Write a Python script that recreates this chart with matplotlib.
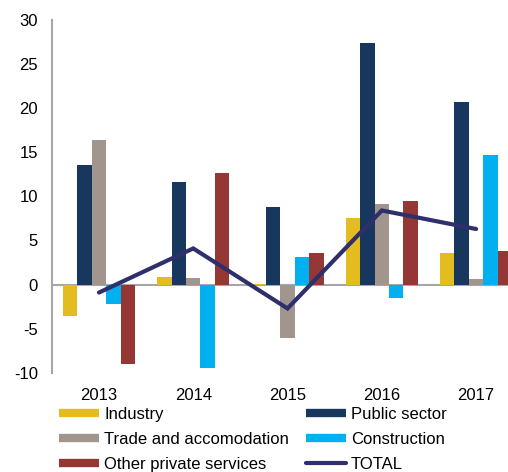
import numpy as np
import matplotlib.pyplot as plt
from matplotlib.lines import Line2D

plt.rcParams['font.family'] = ['Liberation Sans', 'DejaVu Sans']
plt.rcParams['axes.unicode_minus'] = False

years = ['2013', '2014', '2015', '2016', '2017']
industry = [-3.6, 0.9, 0.1, 7.5, 3.6]
public_sector = [13.6, 11.6, 8.8, 27.4, 20.7]
trade = [16.4, 0.75, -6.1, 9.1, 0.6]
construction = [-2.2, -9.5, 3.1, -1.5, 14.7]
other_private = [-9.0, 12.7, 3.6, 9.5, 3.8]
total = [-0.9, 4.1, -2.7, 8.4, 6.3]

series = [
    ('Industry', industry, '#E3BC1F'),
    ('Public sector', public_sector, '#17375E'),
    ('Trade and accomodation', trade, '#A2958D'),
    ('Construction', construction, '#00B0F0'),
    ('Other private services', other_private, '#953735'),
]
total_color = '#2E2F6B'

fig = plt.figure(figsize=(5.08, 4.72), dpi=100)
ax = fig.add_axes([0.102, 0.21, 0.928, 0.748])

x = np.arange(len(years))
w = 0.153
for i, (name, vals, col) in enumerate(series):
    ax.bar(x + (i - 2) * w, vals, width=w, color=col, zorder=2)

ax.axhline(0, color='#A6A6A6', lw=1.5, zorder=1)
ax.plot(x, total, color=total_color, lw=3, solid_capstyle='round',
        solid_joinstyle='miter', zorder=3)

ax.set_xlim(-0.5, 4.5)
ax.set_ylim(-10, 30)
ax.set_yticks(range(-10, 31, 5))
ax.set_xticks(x)
ax.set_xticklabels(years)
for s in ['top', 'right', 'bottom']:
    ax.spines[s].set_visible(False)
ax.spines['left'].set_color('#A6A6A6')
ax.spines['left'].set_linewidth(1.5)
ax.tick_params(axis='y', length=0, pad=10, labelsize=12)
ax.tick_params(axis='x', length=0, pad=11, labelsize=12)

# legend, filled column by column so reorder for row layout
handles = {name: Line2D([], [], color=col, lw=6, solid_capstyle='butt')
           for name, _, col in series}
handles['TOTAL'] = Line2D([], [], color=total_color, lw=3, solid_capstyle='round')
order = ['Industry', 'Trade and accomodation', 'Other private services',
         'Public sector', 'Construction', 'TOTAL']
fig.legend([handles[n] for n in order], order, ncol=2, frameon=False,
           loc='upper left', bbox_to_anchor=(0.117, 0.138), fontsize=12,
           handlelength=2.4, handletextpad=0.3, labelspacing=0.6,
           columnspacing=1.0, borderaxespad=0, borderpad=0)

fig.savefig('out.png', dpi=100)
